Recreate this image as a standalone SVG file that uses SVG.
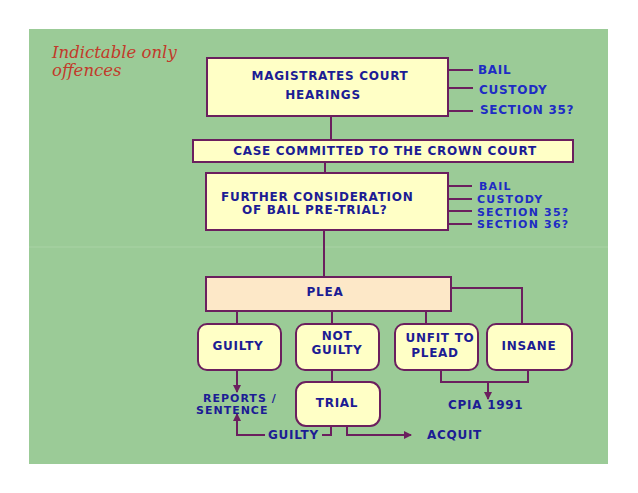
<svg xmlns="http://www.w3.org/2000/svg" width="638" height="493" viewBox="0 0 638 493">
<style>
.box{fill:#ffffc6;stroke:#6b1f5e;stroke-width:2}
.plea{fill:#fde8c8;stroke:#6b1f5e;stroke-width:2}
.t{font-family:"DejaVu Sans","Liberation Sans",sans-serif;font-weight:bold;font-size:12px;letter-spacing:0.72px;fill:#1c1c94}
.s{font-family:"DejaVu Sans","Liberation Sans",sans-serif;font-weight:bold;font-size:12px;letter-spacing:0.72px;fill:#1e2cc4}
.r{font-size:11px;letter-spacing:1px}
.f{font-size:11px;letter-spacing:1.2px}
.m{text-anchor:middle}
.c{fill:none;stroke:#6b1f5e;stroke-width:2}
.title{font-family:"DejaVu Serif","Liberation Serif",serif;font-style:italic;font-size:16.5px;fill:#c23a2a}
</style>
<defs>
<marker id="ah" markerUnits="userSpaceOnUse" markerWidth="8" markerHeight="8" refX="7" refY="4" orient="auto">
<path d="M0,0 L8,4 L0,8 z" fill="#6b1f5e"/>
</marker>
</defs>
<rect x="0" y="0" width="638" height="493" fill="#ffffff"/>
<rect x="29" y="29" width="579" height="435" fill="#9bcb97"/>
<line x1="29" y1="247" x2="608" y2="247" stroke="#a9d3a5" stroke-width="1"/>
<g id="title">
<text class="title" x="52" y="58">Indictable only</text>
<text class="title" x="52" y="76">offences</text>
</g>
<g id="connectors">
<path class="c" d="M448,70 H473 M448,88 H473 M448,111 H473"/>
<path class="c" d="M331,116 V140"/>
<path class="c" d="M325,162 V173"/>
<path class="c" d="M448,186 H472 M448,199 H472 M448,211 H472 M448,224 H472"/>
<path class="c" d="M324,230 V277"/>
<path class="c" d="M451,288 H522 V324"/>
<path class="c" d="M237,311 V324 M332,311 V324 M426,311 V324"/>
<path class="c" d="M237,370 V392" marker-end="url(#ah)"/>
<path class="c" d="M237,435 V414" marker-end="url(#ah)"/>
<path class="c" d="M236,435 H265"/>
<path class="c" d="M322,435 H331 V426"/>
<path class="c" d="M332,370 V382"/>
<path class="c" d="M347,426 V435 H411" marker-end="url(#ah)"/>
<path class="c" d="M441,370 V382 H528 V370"/>
<path class="c" d="M488,382 V399" marker-end="url(#ah)"/>
</g>
<g id="magistrates">
<rect class="box" x="207" y="58" width="241" height="58"/>
<text class="t m" x="330" y="80">MAGISTRATES COURT</text>
<text class="t m" x="323" y="99">HEARINGS</text>
</g>
<g id="mag-labels">
<text class="s" x="478" y="74">BAIL</text>
<text class="s" x="479" y="94">CUSTODY</text>
<text class="s" x="480" y="114">SECTION 35?</text>
</g>
<g id="committed">
<rect class="box" x="193" y="140" width="380" height="22"/>
<text class="t m" x="385" y="155">CASE COMMITTED TO THE CROWN COURT</text>
</g>
<g id="further">
<rect class="box" x="206" y="173" width="242" height="57"/>
<text class="t" x="221" y="201">FURTHER CONSIDERATION</text>
<text class="t" x="242" y="214">OF BAIL PRE-TRIAL?</text>
</g>
<g id="further-labels">
<text class="s f" x="479" y="190">BAIL</text>
<text class="s f" x="477" y="203">CUSTODY</text>
<text class="s f" x="477" y="215.5">SECTION 35?</text>
<text class="s f" x="477" y="228">SECTION 36?</text>
</g>
<g id="plea">
<rect class="plea" x="206" y="277" width="245" height="34"/>
<text class="t m" x="325" y="296">PLEA</text>
</g>
<g id="guilty">
<rect class="box" x="198" y="324" width="83" height="46" rx="9"/>
<text class="t m" x="238" y="350">GUILTY</text>
</g>
<g id="notguilty">
<rect class="box" x="296" y="324" width="83" height="46" rx="9"/>
<text class="t m" x="337" y="340">NOT</text>
<text class="t m" x="337" y="354">GUILTY</text>
</g>
<g id="unfit">
<rect class="box" x="395" y="324" width="83" height="46" rx="9"/>
<text class="t m" x="440" y="342">UNFIT TO</text>
<text class="t m" x="435" y="357">PLEAD</text>
</g>
<g id="insane">
<rect class="box" x="487" y="324" width="85" height="46" rx="9"/>
<text class="t m" x="529" y="350">INSANE</text>
</g>
<g id="reports">
<text class="t r" x="203" y="402">REPORTS /</text>
<text class="t r" x="196" y="414">SENTENCE</text>
</g>
<g id="trial">
<rect class="box" x="296" y="382" width="84" height="44" rx="10"/>
<text class="t m" x="337" y="407">TRIAL</text>
</g>
<g id="guilty-label">
<text class="t" x="268" y="439">GUILTY</text>
</g>
<g id="acquit">
<text class="t" x="427" y="439">ACQUIT</text>
</g>
<g id="cpia">
<text class="t" x="448" y="409">CPIA 1991</text>
</g>
</svg>
